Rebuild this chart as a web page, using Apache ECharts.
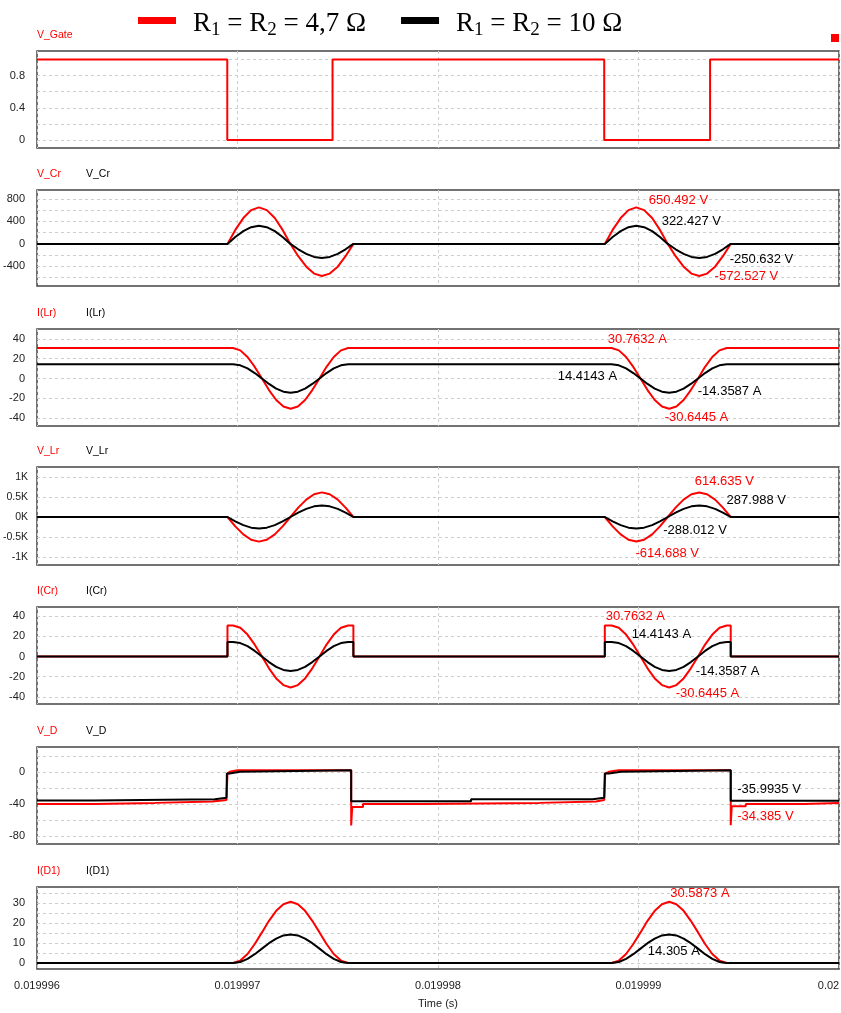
<!DOCTYPE html>
<html><head><meta charset="utf-8">
<script src="https://cdn.jsdelivr.net/npm/echarts@6/dist/echarts.min.js"></script>
<style>html,body{margin:0;padding:0;background:#fff}#c{width:841px;height:1013px}</style>
</head><body><div id="c"></div>
<script>
// ---------- data (time in microseconds after 0.019996 s) ----------
const xTickValues = [0, 1, 2, 3, 4];
const xTickLabels = ['0.019996', '0.019997', '0.019998', '0.019999', '0.02'];
const xAxisName = 'Time (s)';
const legendNames = ['R1 = R2 = 4,7 Ω', 'R1 = R2 = 10 Ω'];
const redLabels = ['V_Gate', 'V_Cr', 'I(Lr)', 'V_Lr', 'I(Cr)', 'V_D', 'I(D1)'];
const blackLabels = ['', 'V_Cr', 'I(Lr)', 'V_Lr', 'I(Cr)', 'V_D', 'I(D1)'];

// V_Gate
const gateT = [0, 0.949, 0.949, 1.474, 1.474, 2.829, 2.829, 3.357, 3.357, 4];
const gateRed = [1, 1, 0, 0, 1, 1, 0, 0, 1, 1];

// resonance time grid used by V_Cr and V_Lr
const resT = [0, 0.950, 0.989, 1.029, 1.068, 1.107, 1.146, 1.186, 1.225, 1.264, 1.303, 1.343, 1.382, 1.421, 1.460, 1.500, 1.539, 1.578,
  2.832, 2.871, 2.911, 2.950, 2.989, 3.028, 3.068, 3.107, 3.146, 3.185, 3.225, 3.264, 3.303, 3.342, 3.382, 3.421, 3.460, 4];
const vcrRed = [0, 0, 249, 460, 601, 650, 601, 460, 249, 0, -219, -405, -529, -572, -529, -405, -219, 0,
  0, 249, 460, 601, 650.5, 601, 460, 249, 0, -219, -405, -529, -572.5, -529, -405, -219, 0, 0];
const vcrBlack = [0, 0, 123, 228, 298, 322, 298, 228, 123, 0, -96, -177, -232, -251, -232, -177, -96, 0,
  0, 123, 228, 298, 322.4, 298, 228, 123, 0, -96, -177, -232, -250.6, -232, -177, -96, 0, 0];
const vlrRed = [0, 0, -235, -435, -568, -615, -568, -435, -235, 0, 235, 435, 568, 615, 568, 435, 235, 0,
  0, -235, -435, -568, -614.7, -568, -435, -235, 0, 235, 435, 568, 614.6, 568, 435, 235, 0, 0];
const vlrBlack = [0, 0, -110, -204, -266, -288, -266, -204, -110, 0, 110, 204, 266, 288, 266, 204, 110, 0,
  0, -110, -204, -266, -288, -266, -204, -110, 0, 110, 204, 266, 288, 266, 204, 110, 0, 0];

// I(Lr) and I(D1) time grid
const ilrT = [0, 0.978, 1.014, 1.050, 1.086, 1.122, 1.157, 1.193, 1.229, 1.265, 1.301, 1.337, 1.373, 1.409, 1.444, 1.480, 1.516, 1.552,
  2.866, 2.902, 2.938, 2.974, 3.010, 3.045, 3.081, 3.117, 3.153, 3.189, 3.225, 3.261, 3.297, 3.332, 3.368, 3.404, 3.440, 4];
const ilrRed = [30.76, 30.76, 28.4, 21.7, 11.7, 0, -11.7, -21.7, -28.3, -30.64, -28.3, -21.7, -11.7, 0, 11.8, 21.7, 28.4, 30.76,
  30.76, 28.4, 21.7, 11.7, 0, -11.7, -21.7, -28.3, -30.64, -28.3, -21.7, -11.7, 0, 11.8, 21.7, 28.4, 30.76, 30.76];
const ilrBlack = [14.41, 14.41, 13.3, 10.2, 5.5, 0, -5.5, -10.2, -13.3, -14.36, -13.3, -10.2, -5.5, 0, 5.5, 10.2, 13.3, 14.41,
  14.41, 13.3, 10.2, 5.5, 0, -5.5, -10.2, -13.3, -14.36, -13.3, -10.2, -5.5, 0, 5.5, 10.2, 13.3, 14.41, 14.41];
const id1Red = [0, 0, 1.2, 4.5, 9.5, 15.3, 21.1, 26.1, 29.4, 30.59, 29.4, 26.1, 21.1, 15.3, 9.5, 4.5, 1.2, 0,
  0, 1.2, 4.5, 9.5, 15.3, 21.1, 26.1, 29.4, 30.59, 29.4, 26.1, 21.1, 15.3, 9.5, 4.5, 1.2, 0, 0];
const id1Black = [0, 0, 0.5, 2.1, 4.4, 7.2, 9.9, 12.2, 13.8, 14.3, 13.8, 12.2, 9.9, 7.2, 4.4, 2.1, 0.5, 0,
  0, 0.5, 2.1, 4.4, 7.2, 9.9, 12.2, 13.8, 14.305, 13.8, 12.2, 9.9, 7.2, 4.4, 2.1, 0.5, 0, 0];

// I(Cr)
const icrT = [0, 0.950, 0.950, 0.978, 1.014, 1.050, 1.086, 1.122, 1.157, 1.193, 1.229, 1.265, 1.301, 1.337, 1.373, 1.409, 1.444, 1.480, 1.516, 1.552, 1.578, 1.578,
  2.832, 2.832, 2.866, 2.902, 2.938, 2.974, 3.010, 3.045, 3.081, 3.117, 3.153, 3.189, 3.225, 3.261, 3.297, 3.332, 3.368, 3.404, 3.440, 3.460, 3.460, 4];
const icrRed = [0, 0, 30.76, 30.76, 28.4, 21.7, 11.7, 0, -11.7, -21.7, -28.3, -30.64, -28.3, -21.7, -11.7, 0, 11.8, 21.7, 28.4, 30.76, 30.76, 0,
  0, 30.76, 30.76, 28.4, 21.7, 11.7, 0, -11.7, -21.7, -28.3, -30.64, -28.3, -21.7, -11.7, 0, 11.8, 21.7, 28.4, 30.76, 30.76, 0, 0];
const icrBlack = [0, 0, 14.41, 14.41, 13.3, 10.2, 5.5, 0, -5.5, -10.2, -13.3, -14.36, -13.3, -10.2, -5.5, 0, 5.5, 10.2, 13.3, 14.41, 14.41, 0,
  0, 14.41, 14.41, 13.3, 10.2, 5.5, 0, -5.5, -10.2, -13.3, -14.36, -13.3, -10.2, -5.5, 0, 5.5, 10.2, 13.3, 14.41, 14.41, 0, 0];

// V_D
const vdBlackT = [0, 0.281, 0.281, 0.887, 0.887, 0.945, 0.947, 0.961, 0.961, 1.011, 1.011, 1.567, 1.567, 2.165, 2.165, 2.771, 2.771, 2.829, 2.832, 2.852, 2.852, 2.912, 2.912, 3.460, 3.460, 4];
const vdBlack = [-35.8, -35.8, -34.1, -34.1, -32.4, -32.4, -2, -2, 0, 0, 2.1, 2.1, -36.6, -36.6, -34.1, -34.1, -32.4, -32.4, -2, -2, 0, 0, 2.1, 2.1, -36, -36];
const vdRedT = [0, 0.290, 0.290, 0.588, 0.588, 0.875, 0.875, 0.945, 0.950, 0.961, 1.000, 1.567, 1.567, 1.572, 1.626, 1.626, 1.924, 1.924, 2.506, 2.506, 2.788, 2.788, 2.829, 2.834, 2.852, 2.900, 3.460, 3.460, 3.465, 3.535, 3.535, 3.826, 3.826, 4];
const vdRed = [-40, -40, -38.7, -38.7, -37, -37, -35, -35, -2, 0, 2.1, 2.1, -67, -44, -44, -40, -40, -38.7, -38.7, -37, -37, -35, -35, -2, 0, 2.1, 2.1, -66.5, -43, -43, -40, -40, -39, -39];

// annotations: [time, value, text]
const annVcrRed = [[3.049, 771, '650.492 V'], [3.377, -584, '-572.527 V']];
const annVcrBlack = [[3.113, 395, '322.427 V'], [3.452, -269, '-250.632 V']];
const annIlrRed = [[2.844, 39.6, '30.7632 A'], [3.128, -39.2, '-30.6445 A']];
const annIlrBlack = [[2.595, 2.5, '14.4143 A'], [3.293, -13.3, '-14.3587 A']];
const annVlrRed = [[3.278, 882, '614.635 V'], [2.982, -907, '-614.688 V']];
const annVlrBlack = [[3.437, 425, '287.988 V'], [3.121, -342, '-288.012 V']];
const annIcrRed = [[2.834, 40.1, '30.7632 A'], [3.183, -36.4, '-30.6445 A']];
const annIcrBlack = [[2.964, 22, '14.4143 A'], [3.283, -15, '-14.3587 A']];
const annVdRed = [[3.490, -56, '-34.385 V']];
const annVdBlack = [[3.490, -21.4, '-35.9935 V']];
const annId1Red = [[3.156, 34.7, '30.5873 A']];
const annId1Black = [[3.044, 6.0, '14.305 A']];

// y axes: ranges, grid values, labelled values
const yRanges = [[-0.1, 1.106], [-750, 960], [-48, 50], [-1200, 1250], [-47, 49], [-90, 31], [-3, 38]];
const yGridVals = [[0, 0.2, 0.4, 0.6, 0.8, 1], [-600, -400, -200, 0, 200, 400, 600, 800], [-40, -20, 0, 20, 40],
  [-1000, -500, 0, 500, 1000], [-40, -20, 0, 20, 40], [-80, -60, -40, -20, 0, 20], [0, 5, 10, 15, 20, 25, 30, 35]];
const yTickVals = [[0, 0.4, 0.8], [-400, 0, 400, 800], [-40, -20, 0, 20, 40], [-1000, -500, 0, 500, 1000],
  [-40, -20, 0, 20, 40], [-80, -40, 0], [0, 10, 20, 30]];
const vlrTickLabels = ['-1K', '-0.5K', '0K', '0.5K', '1K'];

// ---------- layout ----------
const RED = '#ff0000', BLACK = '#000000';
const FONT = "'Liberation Sans', Arial, sans-serif";
const gridTops = [51, 190, 329, 467, 607, 747, 887];
const gridHeights = [97, 96, 97, 98, 97, 97, 82];

const panelSeries = [
  {red: [gateT, gateRed, []], black: null},
  {red: [resT, vcrRed, annVcrRed], black: [resT, vcrBlack, annVcrBlack]},
  {red: [ilrT, ilrRed, annIlrRed], black: [ilrT, ilrBlack, annIlrBlack]},
  {red: [resT, vlrRed, annVlrRed], black: [resT, vlrBlack, annVlrBlack]},
  {red: [icrT, icrRed, annIcrRed], black: [icrT, icrBlack, annIcrBlack]},
  {red: [vdRedT, vdRed, annVdRed], black: [vdBlackT, vdBlack, annVdBlack]},
  {red: [ilrT, id1Red, annId1Red], black: [ilrT, id1Black, annId1Black]}
];

const zip = (t, v) => t.map((x, k) => [x, v[k]]);

const grids = [], xAxes = [], yAxes = [], series = [], graphics = [];
gridTops.forEach((top, i) => {
  grids.push({left: 37, right: 2, top: top, height: gridHeights[i], show: true,
    outerBoundsMode: 'none', containLabel: false,
    borderColor: '#444', borderWidth: 1.5, backgroundColor: 'transparent'});
  const last = i === gridTops.length - 1;
  xAxes.push({
    gridIndex: i, type: 'value', min: 0, max: 4, interval: 1,
    axisLine: {show: false}, axisTick: {show: false},
    axisLabel: {show: last, margin: 11, fontSize: 11, color: '#222', fontFamily: FONT,
      formatter: v => {
        const k = xTickValues.indexOf(Math.round(v));
        return k === xTickValues.length - 1 ? '{e|' + xTickLabels[k] + '}' : xTickLabels[k];
      },
      rich: {e: {fontSize: 11, color: '#222', fontFamily: FONT, padding: [0, 21, 0, 0]}}},
    splitLine: {show: true, lineStyle: {color: '#cdcdcd', type: [3, 3], width: 1}},
    name: last ? xAxisName : '', nameLocation: 'middle', nameGap: 29,
    nameTextStyle: {fontSize: 11, color: '#222', fontFamily: FONT}
  });
  yAxes.push({
    gridIndex: i, type: 'value', min: yRanges[i][0], max: yRanges[i][1],
    axisLine: {show: false},
    axisTick: {show: false, customValues: yGridVals[i]},
    axisLabel: {customValues: yTickVals[i], margin: i === 3 ? 9 : 12, fontSize: i === 3 ? 10.5 : 11,
      color: '#222', fontFamily: FONT,
      formatter: v => i === 3 ? vlrTickLabels[yTickVals[3].indexOf(v)] : String(v)},
    splitLine: {show: true, lineStyle: {color: '#cdcdcd', type: [3, 3], width: 1}}
  });
  const mk = (spec, color, name) => ({
    type: 'line', name: name, xAxisIndex: i, yAxisIndex: i,
    data: zip(spec[0], spec[1]), showSymbol: false, symbol: 'none',
    lineStyle: {width: 2, color: color}, itemStyle: {color: color},
    emphasis: {disabled: true}, animation: false,
    markPoint: {
      symbol: 'circle', symbolSize: 1, silent: true, animation: false,
      itemStyle: {color: 'rgba(0,0,0,0)'},
      label: {show: true, position: 'right', distance: 0, formatter: p => p.name,
        color: color, fontSize: 13, fontFamily: FONT},
      data: spec[2].map(a => ({name: a[2], coord: [a[0], a[1]]}))
    }
  });
  series.push(mk(panelSeries[i].red, RED, legendNames[0]));
  if (panelSeries[i].black) series.push(mk(panelSeries[i].black, BLACK, legendNames[1]));
  graphics.push({type: 'text', x: 37, y: top - 15.5,
    style: {text: redLabels[i], fill: RED, font: '10.5px ' + FONT, verticalAlign: 'middle', align: 'left'}});
  if (blackLabels[i]) graphics.push({type: 'text', x: 86, y: top - 15.5,
    style: {text: blackLabels[i], fill: BLACK, font: '10.5px ' + FONT, verticalAlign: 'middle', align: 'left'}});
});
graphics.push({type: 'rect', shape: {x: 831, y: 34, width: 8, height: 8}, style: {fill: RED}});

const legendRich = name => {
  const m = name.match(/^R(\d) = R(\d)(.*)$/);
  return '{g| }{r|R}{s|' + m[1] + '}{r| = R}{s|' + m[2] + '}{r|' + m[3] + '}';
};

const SERIF = "'Liberation Serif', 'Times New Roman', serif";
const option = {
  animation: false,
  textStyle: {fontFamily: FONT},
  legend: {
    left: 133, top: 3, itemWidth: 38, itemHeight: 7, itemGap: 35, icon: 'rect', selectedMode: false,
    data: legendNames.map(n => ({name: n})),
    formatter: legendRich,
    textStyle: {
      color: '#000', padding: [7, 0, 0, 0],
      rich: {
        g: {width: 12, fontSize: 27, lineHeight: 30},
        r: {fontFamily: SERIF, fontSize: 27, lineHeight: 30, color: '#000'},
        s: {fontFamily: SERIF, fontSize: 19, lineHeight: 30, padding: [13, 0, 0, 0], color: '#000'}
      }
    }
  },
  grid: grids, xAxis: xAxes, yAxis: yAxes, series: series, graphic: graphics
};
const chart = echarts.init(document.getElementById('c'), null, {renderer: 'canvas'});
chart.setOption(option);
</script></body></html>
